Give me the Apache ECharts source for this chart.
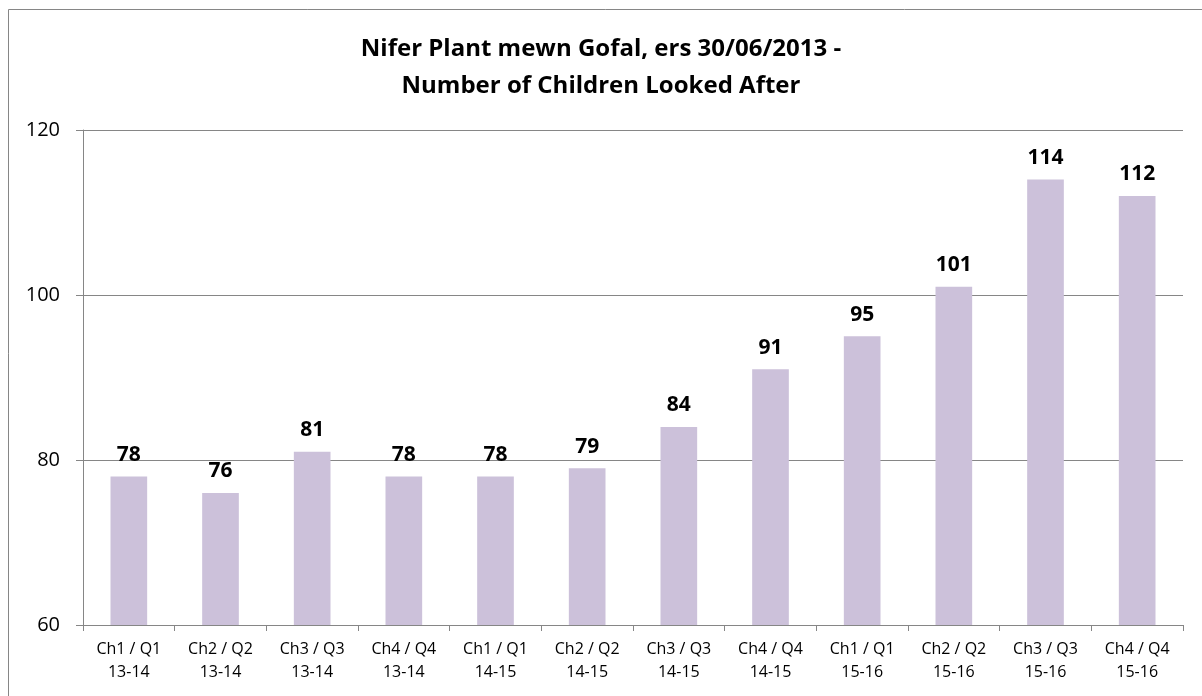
<!DOCTYPE html>
<html lang="cy">
<head>
    <meta charset="UTF-8">
    <title>Nifer Plant mewn Gofal</title>
    <script src="https://cdn.jsdelivr.net/npm/echarts@6/dist/echarts.min.js"></script>
    <style>
        html, body { margin: 0; padding: 0; background: #fff; }
    </style>
</head>
<body>
    <div id="main" style="width: 1202px;height:696px;"></div>
    <script type="text/javascript">
        // data
        var categories = ['Ch1 / Q1\n13-14', 'Ch2 / Q2\n13-14', 'Ch3 / Q3\n13-14', 'Ch4 / Q4\n13-14',
                          'Ch1 / Q1\n14-15', 'Ch2 / Q2\n14-15', 'Ch3 / Q3\n14-15', 'Ch4 / Q4\n14-15',
                          'Ch1 / Q1\n15-16', 'Ch2 / Q2\n15-16', 'Ch3 / Q3\n15-16', 'Ch4 / Q4\n15-16'];
        var children = [78, 76, 81, 78, 78, 79, 84, 91, 95, 101, 114, 112];
        var titleText = 'Nifer Plant mewn Gofal, ers 30/06/2013 -\nNumber of Children Looked After';

        var font = 'Open Sans, Lato, sans-serif';
        var myChart = echarts.init(document.getElementById('main'));

        var option = {
            animation: false,
            // chart frame (right and bottom edges fall outside the picture)
            graphic: [{
                type: 'rect',
                shape: { x: 8.5, y: 9.5, width: 1210, height: 700 },
                style: { fill: 'none', stroke: '#868686', lineWidth: 1 }
            }],
            title: {
                text: titleText,
                left: 'center',
                top: 26,
                textStyle: {
                    fontFamily: font,
                    fontSize: 24,
                    fontWeight: 'bold',
                    color: '#000',
                    lineHeight: 37
                }
            },
            grid: { left: 83, right: 19, top: 130, bottom: 71 },
            xAxis: {
                type: 'category',
                data: categories,
                axisLine: { lineStyle: { color: '#868686' } },
                axisTick: { show: true, length: 6, lineStyle: { color: '#868686' } },
                axisLabel: {
                    interval: 0,
                    margin: 13,
                    fontFamily: font,
                    fontSize: 16,
                    lineHeight: 23,
                    color: '#000'
                }
            },
            yAxis: {
                type: 'value',
                min: 60,
                max: 120,
                interval: 20,
                axisLine: { show: true, lineStyle: { color: '#868686' } },
                axisTick: { show: true, length: 7, lineStyle: { color: '#868686' } },
                splitLine: { lineStyle: { color: '#868686' } },
                axisLabel: {
                    margin: 23,
                    fontFamily: font,
                    fontSize: 20,
                    color: '#000'
                }
            },
            series: [{
                type: 'bar',
                data: children,
                barWidth: '40%',
                itemStyle: { color: '#CCC1DA' },
                label: {
                    show: true,
                    position: 'top',
                    distance: 11,
                    fontFamily: font,
                    fontSize: 21,
                    fontWeight: 'bold',
                    color: '#000'
                }
            }]
        };

        myChart.setOption(option);
    </script>
</body>
</html>
